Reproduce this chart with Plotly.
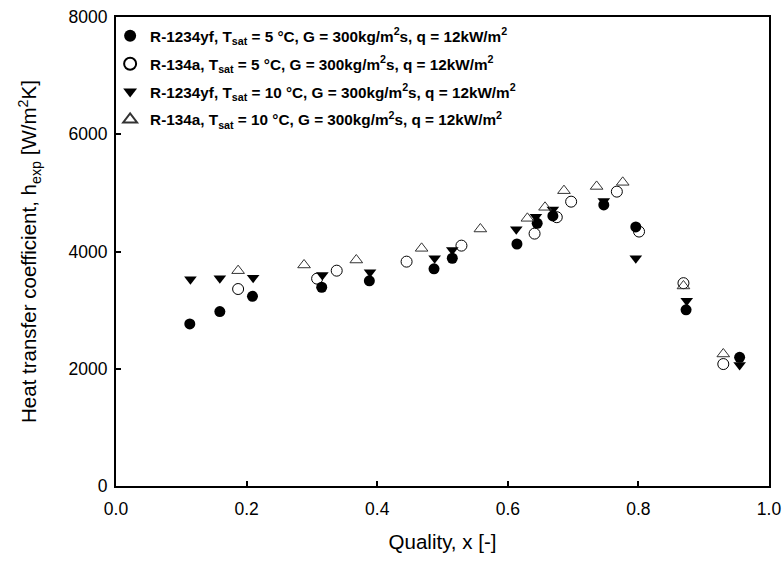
import plotly.graph_objects as go

# Quality and heat transfer coefficient for each test condition
x_1234yf_5 = [0.113, 0.159, 0.209, 0.315, 0.388, 0.487, 0.515, 0.614, 0.645, 0.669, 0.747, 0.796, 0.873, 0.955]
h_1234yf_5 = [2765, 2975, 3235, 3390, 3500, 3705, 3885, 4128, 4480, 4606, 4795, 4420, 3005, 2195]

x_134a_5 = [0.187, 0.308, 0.338, 0.445, 0.529, 0.641, 0.675, 0.697, 0.767, 0.801, 0.869, 0.930]
h_134a_5 = [3360, 3537, 3673, 3827, 4100, 4305, 4585, 4850, 5021, 4340, 3460, 2080]

x_1234yf_10 = [0.114, 0.159, 0.210, 0.316, 0.389, 0.488, 0.515, 0.613, 0.643, 0.669, 0.747, 0.796, 0.874, 0.955]
h_1234yf_10 = [3525, 3542, 3553, 3599, 3645, 3883, 4026, 4380, 4594, 4715, 4860, 3883, 3161, 2064]

x_134a_10 = [0.187, 0.288, 0.368, 0.468, 0.558, 0.630, 0.657, 0.686, 0.736, 0.776, 0.869, 0.930]
h_134a_10 = [3673, 3770, 3855, 4054, 4384, 4566, 4754, 5038, 5110, 5180, 3412, 2252]

x_ticks = [0.0, 0.2, 0.4, 0.6, 0.8, 1.0]
y_ticks = [0, 2000, 4000, 6000, 8000]

cond = ", G = 300kg/m<sup>2</sup>s, q = 12kW/m<sup>2</sup>"
series = [
    ("R-1234yf, T<sub>sat</sub> = 5 °C" + cond, x_1234yf_5, h_1234yf_5, "circle", "black", 0.0),
    ("R-134a, T<sub>sat</sub> = 5 °C" + cond, x_134a_5, h_134a_5, "circle-open", "black", 1.0),
    ("R-1234yf, T<sub>sat</sub> = 10 °C" + cond, x_1234yf_10, h_1234yf_10, "triangle-down", "black", 0.0),
    ("R-134a, T<sub>sat</sub> = 10 °C" + cond, x_134a_10, h_134a_10, "triangle-up-open", "#333333", 1.0),
]

fig = go.Figure()
for i, (name, xs, ys, sym, col, lw) in enumerate(series):
    fig.add_trace(go.Scatter(
        x=xs, y=ys, mode="markers", name="<b>" + name + "</b>",
        legendgroup=f"g{i}",
        marker=dict(symbol=sym, size=11, color=col, line=dict(color=col, width=lw)),
    ))

FONT = "Liberation Sans, Arial"
axis_common = dict(
    showline=True, linecolor="black", linewidth=2, mirror=True,
    ticks="inside", ticklen=5, tickwidth=2, tickcolor="black",
    showgrid=False, zeroline=False, automargin=False,
    tickfont=dict(family=FONT, size=17.5, color="black"),
)

fig.update_layout(
    width=782, height=561,
    margin=dict(l=116, r=13, t=17, b=75),
    paper_bgcolor="white", plot_bgcolor="white",
    font=dict(family=FONT, color="black"),
    xaxis=dict(
        range=[0, 1], tickvals=x_ticks, ticktext=[f"{v:.1f}" for v in x_ticks],
        ticklabelstandoff=6,
        title=dict(text="Quality, x [-]", font=dict(size=20.5), standoff=17),
        **axis_common,
    ),
    yaxis=dict(
        range=[0, 8000], tickvals=y_ticks, ticktext=[str(v) for v in y_ticks],
        ticklabelstandoff=3,
        title=dict(text="Heat transfer coefficient, h<sub>exp</sub> [W/m<sup>2</sup>K]",
                   font=dict(size=20.5), standoff=26),
        **axis_common,
    ),
    legend=dict(
        x=-0.009, y=0.995, xanchor="left", yanchor="top",
        bgcolor="rgba(0,0,0,0)", borderwidth=0,
        font=dict(family=FONT, size=15.3, color="black"),
        tracegroupgap=5, itemsizing="constant",
    ),
    showlegend=True,
)

fig.write_html("out.html")
